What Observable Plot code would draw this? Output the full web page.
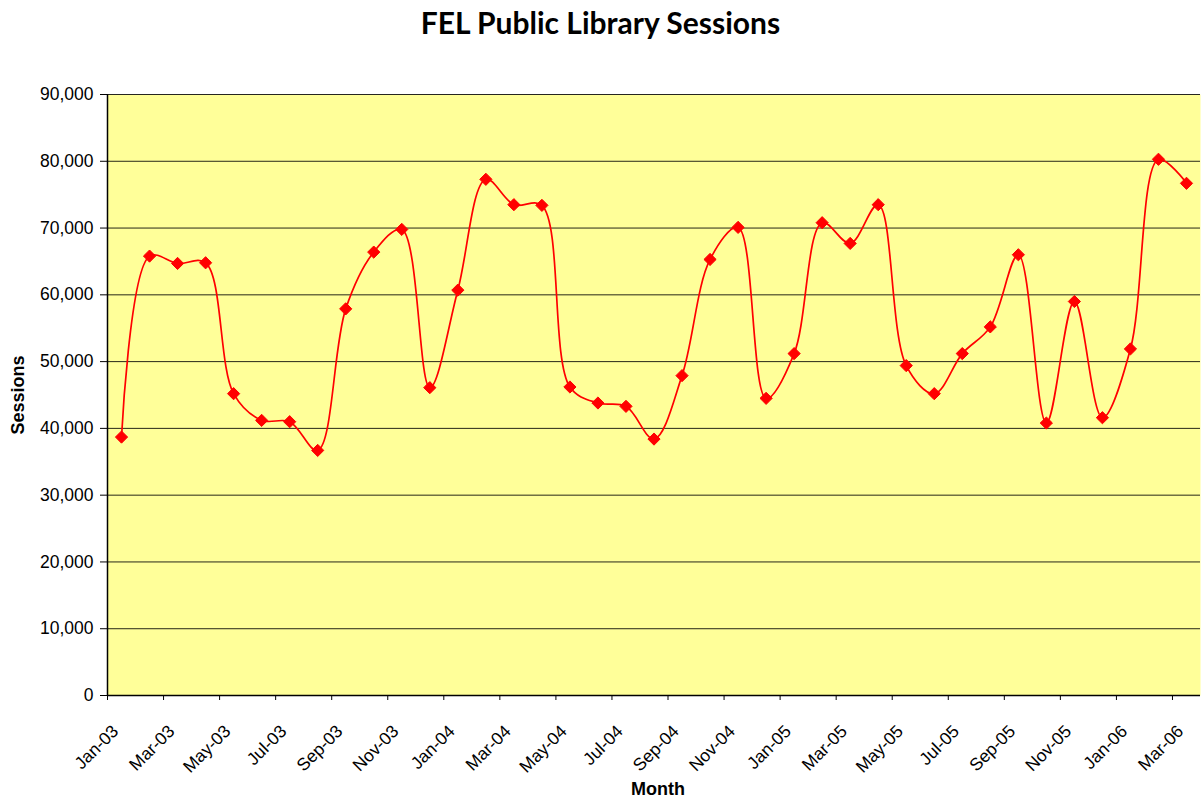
<!DOCTYPE html>
<html>
<head>
<meta charset="utf-8">
<script src="https://cdn.jsdelivr.net/npm/d3@7"></script>
<script src="https://cdn.jsdelivr.net/npm/@observablehq/plot@0.6"></script>
<style>
  html, body { margin: 0; padding: 0; background: white; }
  #title { width: 1201px; height: 50px; text-align: center; font-family: "Lato", "Liberation Sans", Arial, sans-serif; font-weight: bold; font-size: 30px; line-height: 44px; color: black; }
  #chart svg { display: block; }
</style>
</head>
<body>
<div id="title">FEL Public Library Sessions</div>
<div id="chart"></div>
<script>
const months = [
  "Jan-03","Feb-03","Mar-03","Apr-03","May-03","Jun-03","Jul-03","Aug-03","Sep-03","Oct-03","Nov-03","Dec-03",
  "Jan-04","Feb-04","Mar-04","Apr-04","May-04","Jun-04","Jul-04","Aug-04","Sep-04","Oct-04","Nov-04","Dec-04",
  "Jan-05","Feb-05","Mar-05","Apr-05","May-05","Jun-05","Jul-05","Aug-05","Sep-05","Oct-05","Nov-05","Dec-05",
  "Jan-06","Feb-06","Mar-06"
];
const sessions = [
  38700, 65800, 64700, 64800, 45200, 41200, 41000, 36700, 57900, 66400, 69800, 46100,
  60700, 77300, 73500, 73400, 46200, 43800, 43300, 38400, 47900, 65300, 70100, 44500,
  51200, 70800, 67700, 73500, 49400, 45200, 51200, 55200, 66000, 40800, 59000, 41600,
  51900, 80300, 76700
];
const yTicks = [0, 10000, 20000, 30000, 40000, 50000, 60000, 70000, 80000, 90000];

const data = months.map((m, i) => ({i, month: m, sessions: sessions[i]}));
const xTicks = months.map((m, i) => i - 0.5).filter((d, k) => k % 2 === 0);

const chart = Plot.plot({
  width: 1201,
  height: 751,
  marginTop: 44,
  marginLeft: 107,
  marginRight: 1,
  marginBottom: 106,
  style: {fontFamily: "'Liberation Sans', Arial, sans-serif", fontSize: "15px", background: "white", color: "black"},
  x: {domain: [-0.5, 38.5], axis: null},
  y: {domain: [0, 90000], axis: null},
  marks: [
    Plot.frame({fill: "#FFFF99", stroke: null}),
    Plot.gridY(yTicks.filter(d => d > 0), {stroke: "black", strokeOpacity: 0.85, strokeWidth: 1}),
    Plot.axisY(yTicks, {tickFormat: d3.format(","), tickSize: 7, tickPadding: 7, fontSize: 17.5, label: null}),
    Plot.axisX(xTicks, {tickFormat: () => "", tickSize: 5, label: null}),
    Plot.text(xTicks, {x: d => d, frameAnchor: "bottom", text: d => months[d + 0.5], rotate: -45, textAnchor: "end", lineAnchor: "middle", dx: 8, dy: 33, fontSize: 17.5, fill: "black"}),
    Plot.ruleX([-0.5], {stroke: "black", strokeWidth: 1.5}),
    Plot.ruleY([0], {stroke: "black", strokeWidth: 1.5}),
    Plot.line(data, {x: "i", y: "sessions", stroke: "red", strokeWidth: 1.7, curve: "catmull-rom"}),
    Plot.dot(data, {x: "i", y: "sessions", symbol: "diamond2", fill: "red", stroke: "red", strokeWidth: 1, r: 5.5}),
    Plot.text(["Sessions"], {frameAnchor: "left", rotate: -90, textAnchor: "middle", lineAnchor: "middle", dx: -89, fontWeight: "bold", fontSize: 18}),
    Plot.text(["Month"], {frameAnchor: "bottom", textAnchor: "middle", lineAnchor: "middle", dx: 4, dy: 94, fontWeight: "bold", fontSize: 18})
  ]
});
document.getElementById("chart").appendChild(chart);
</script>
</body>
</html>
